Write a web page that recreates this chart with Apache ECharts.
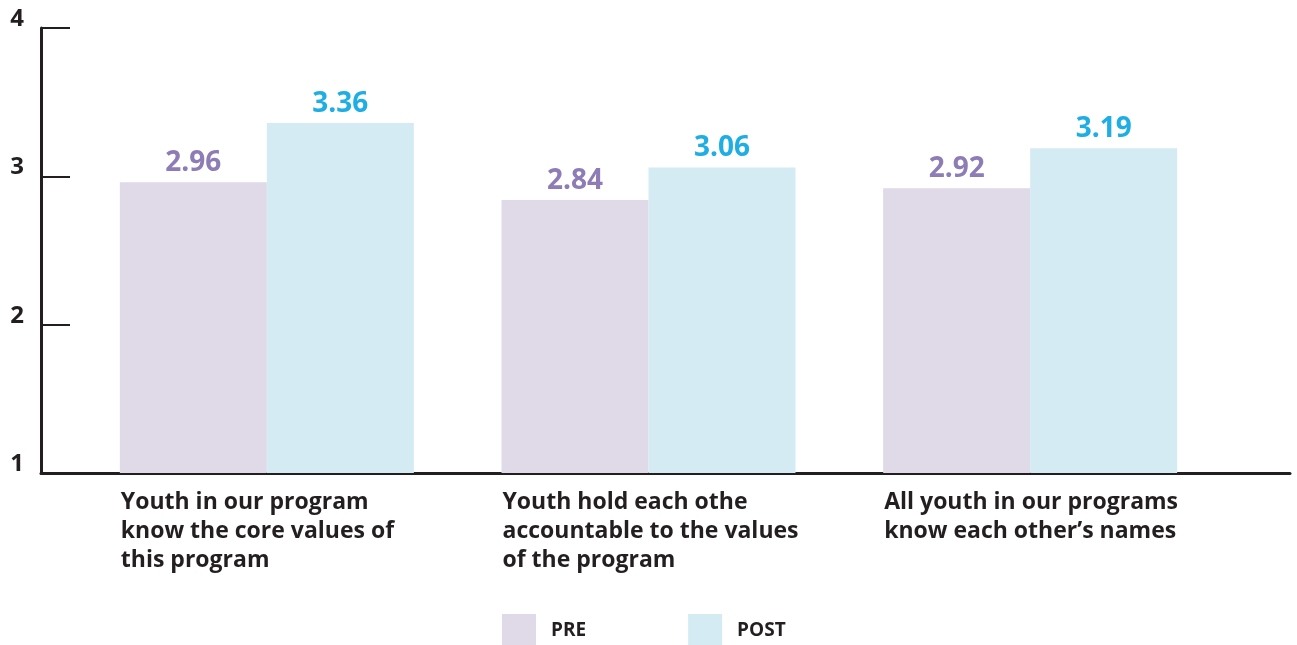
<!DOCTYPE html>
<html>
<head>
<meta charset="utf-8">
<script src="https://cdn.jsdelivr.net/npm/echarts@6/dist/echarts.min.js"></script>
<style>
  html, body { margin: 0; padding: 0; background: #fff; }
  #chart { width: 1297px; height: 645px; }
</style>
</head>
<body>
<div id="chart"></div>
<script>
var categories = [
    'Youth in our program\nknow the core values of\nthis program',
    'Youth hold each othe\naccountable to the values\nof the program',
    'All youth in our programs\nknow each other\u2019s names'
];
var preValues = [2.96, 2.84, 2.92];
var postValues = [3.36, 3.06, 3.19];
var yTicks = [1, 2, 3, 4];

var FONT = '"Open Sans", "Noto Sans", sans-serif';
var DARK = '#231f20';

var myChart = echarts.init(document.getElementById('chart'));

function wrapLabel(text) {
    // each line as its own rich token so lines stay left aligned
    return text.split('\n').map(function (l) { return '{a|' + l + '}'; }).join('\n');
}

var option = {
    animation: false,
    textStyle: { fontFamily: FONT },
    grid: [
        { left: 41, right: 7, top: 28, bottom: 172 },   // axis frame
        { left: 76, right: 76, top: 28, bottom: 172 }   // bars
    ],
    legend: {
        data: ['PRE', 'POST'],
        left: 502,
        top: 614,
        padding: 0,
        itemWidth: 34,
        itemHeight: 34,
        itemGap: 102,
        icon: 'rect',
        textStyle: {
            fontFamily: FONT,
            fontWeight: 'bold',
            fontSize: 19,
            color: DARK,
            padding: [4, 0, 0, 10]
        }
    },
    xAxis: [
        {
            gridIndex: 0,
            type: 'value',
            min: 0,
            max: 1,
            axisLine: { show: true, lineStyle: { color: DARK, width: 3 } },
            axisTick: { show: false },
            axisLabel: { show: false },
            splitLine: { show: false }
        },
        {
            gridIndex: 1,
            type: 'category',
            data: categories,
            axisLine: { show: false },
            axisTick: { show: false },
            axisLabel: {
                margin: 15,
                formatter: wrapLabel,
                rich: {
                    a: {
                        width: 294,
                        align: 'left',
                        padding: [0, 0, 0, 2],
                        fontFamily: FONT,
                        fontWeight: 'bold',
                        fontSize: 23,
                        lineHeight: 29,
                        color: DARK
                    }
                }
            }
        }
    ],
    yAxis: [
        {
            gridIndex: 0,
            type: 'value',
            min: 1,
            max: 4,
            interval: 1,
            axisLine: { show: true, lineStyle: { color: DARK, width: 3 } },
            axisTick: { show: true, inside: true, length: 29, lineStyle: { color: DARK, width: 2 } },
            axisLabel: {
                margin: 17,
                verticalAlign: 'bottom',
                lineHeight: 18,
                fontFamily: FONT,
                fontWeight: 'bold',
                fontSize: 24,
                color: DARK,
                formatter: function (v) { return yTicks.indexOf(v) >= 0 ? String(v) : ''; }
            },
            splitLine: { show: false }
        },
        {
            gridIndex: 1,
            type: 'value',
            min: 1,
            max: 4,
            show: false,
            splitLine: { show: false }
        }
    ],
    series: [
        {
            name: 'PRE',
            type: 'bar',
            xAxisIndex: 1,
            yAxisIndex: 1,
            data: preValues,
            barWidth: 147,
            barGap: '0%',
            itemStyle: { color: '#e0d9e8' },
            label: {
                show: true,
                position: 'top',
                distance: 5,
                fontFamily: FONT,
                fontWeight: 'bold',
                fontSize: 28,
                color: '#8d7cb5',
                formatter: function (p) { return p.value.toFixed(2); }
            }
        },
        {
            name: 'POST',
            type: 'bar',
            xAxisIndex: 1,
            yAxisIndex: 1,
            data: postValues,
            barWidth: 147,
            barGap: '0%',
            itemStyle: { color: '#d5ebf3' },
            label: {
                show: true,
                position: 'top',
                distance: 5,
                fontFamily: FONT,
                fontWeight: 'bold',
                fontSize: 28,
                color: '#1eaee4',
                formatter: function (p) { return p.value.toFixed(2); }
            }
        }
    ]
};

myChart.setOption(option);
</script>
</body>
</html>
